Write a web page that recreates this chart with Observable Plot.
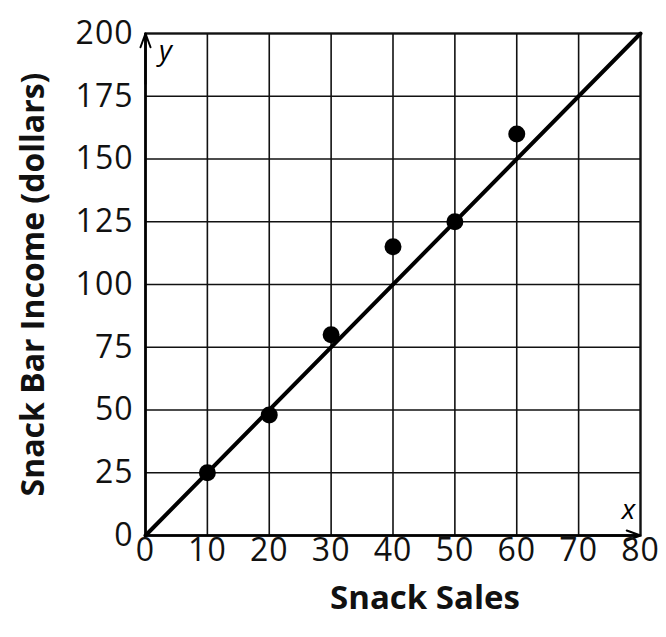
<!DOCTYPE html>
<html>
<head>
<meta charset="utf-8">
<script src="https://cdn.jsdelivr.net/npm/d3@7"></script>
<script src="https://cdn.jsdelivr.net/npm/@observablehq/plot@0.6"></script>
<style>
  html, body { margin: 0; padding: 0; background: #fff; }
  #chart svg { font-family: "Open Sans", "DejaVu Sans", sans-serif; }
  #chart svg [aria-label$="axis label"] text { font-weight: 700; }
  #chart svg [aria-label$="axis tick label"] text { letter-spacing: 1px; font-weight: 500; }
</style>
</head>
<body>
<div id="chart"></div>
<script>
const sales = [10, 20, 30, 40, 50, 60];
const income = [25, 48, 80, 115, 125, 160];
const xTicks = [0, 10, 20, 30, 40, 50, 60, 70, 80];
const yTicks = [0, 25, 50, 75, 100, 125, 150, 175, 200];
const fitLine = [{x: 0, y: 0}, {x: 80, y: 200}];
const xTitle = "Snack Sales";
const yTitle = "Snack Bar Income (dollars)";

const points = sales.map((s, i) => ({x: s, y: income[i]}));
const xDom = [xTicks[0], xTicks[xTicks.length - 1]];
const yDom = [yTicks[0], yTicks[yTicks.length - 1]];

const chart = Plot.plot({
  width: 666,
  height: 637,
  marginLeft: 145,
  marginRight: 26,
  marginTop: 33,
  marginBottom: 102,
  x: {domain: xDom, ticks: xTicks, label: null},
  y: {domain: yDom, ticks: yTicks, label: yTitle},
  marks: [
    Plot.ruleX(xTicks, {stroke: "#111", strokeWidth: 1.6}),
    Plot.ruleY(yTicks, {stroke: "#111", strokeWidth: 1.6}),
    Plot.frame({stroke: "#111", strokeWidth: 2.2}),
    Plot.ruleX([xDom[0]], {stroke: "#000", strokeWidth: 2.4}),
    Plot.ruleY([yDom[0]], {stroke: "#000", strokeWidth: 2.4}),
    Plot.arrow([{x: xDom[0], y1: yDom[1] * 0.9, y2: yDom[1]}], {x: "x", y1: "y1", y2: "y2", stroke: "#000", strokeWidth: 2, headLength: 11, headAngle: 40}),
    Plot.arrow([{y: yDom[0], x1: xDom[1] * 0.9, x2: xDom[1]}], {y: "y", x1: "x1", x2: "x2", stroke: "#000", strokeWidth: 2, headLength: 11, headAngle: 40}),
    Plot.text(["y"], {x: xDom[0], y: yDom[1], dx: 20, dy: 18, fontSize: 28, fontStyle: "italic", fill: "#000"}),
    Plot.text(["x"], {x: xDom[1], y: yDom[0], dx: -12, dy: -25, fontSize: 28, fontStyle: "italic", fill: "#000"}),
    Plot.line(fitLine, {x: "x", y: "y", stroke: "#000", strokeWidth: 4}),
    Plot.dot(points, {x: "x", y: "y", r: 8.5, fill: "#000", stroke: "none"}),
    Plot.axisX({ticks: xTicks, tickSize: 0, tickPadding: 3, fontSize: 32, label: null, color: "#111"}),
    Plot.axisY({ticks: yTicks, tickSize: 0, tickPadding: 12, fontSize: 32, label: yTitle, labelAnchor: "center", labelArrow: "none", labelOffset: 124, color: "#111"}),
    Plot.text([xTitle], {frameAnchor: "bottom", lineAnchor: "middle", dx: 32, dy: 63, fontSize: 33, fontWeight: 700, fill: "#111"})
  ]
});
document.getElementById("chart").appendChild(chart);
</script>
</body>
</html>
